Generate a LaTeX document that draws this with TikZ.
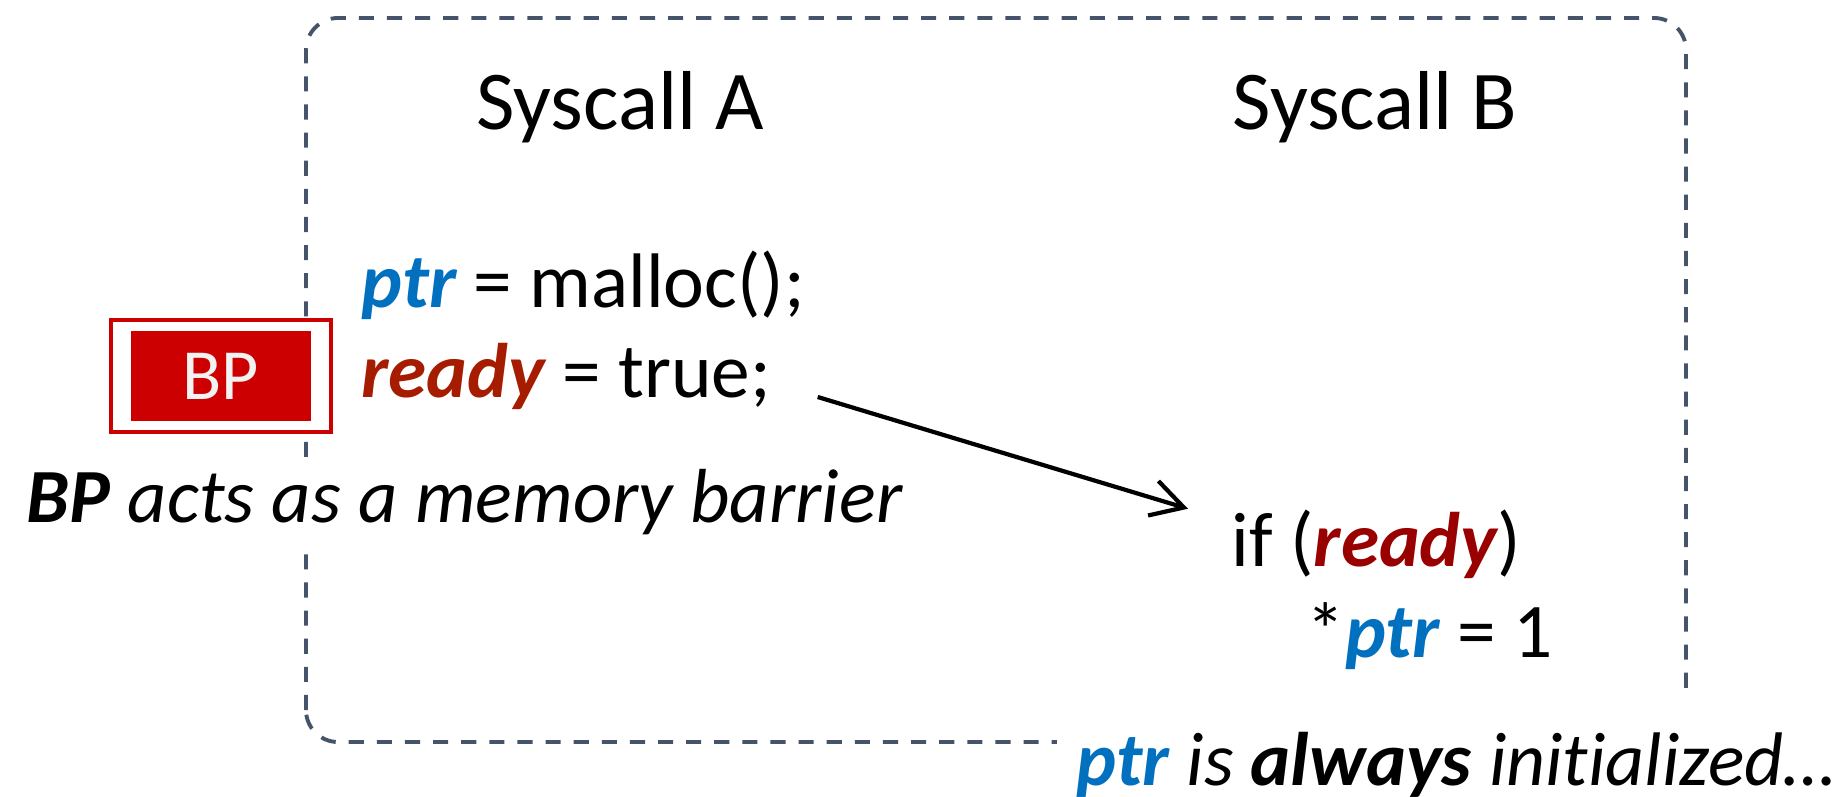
\documentclass[tikz,border=0pt]{standalone}
\usepackage{fontspec}
\setmainfont{Carlito}[Ligatures=NoCommon]
\usetikzlibrary{arrows.meta}
\tikzset{every node/.style={inner sep=0pt, font=\fontsize{22}{26}\selectfont}}
\definecolor{ptrblue}{rgb}{0,0.44,0.75}
\definecolor{readyred}{rgb}{0.65,0.11,0}
\definecolor{condred}{rgb}{0.6,0,0}
\definecolor{bpred}{rgb}{0.8,0,0}
\definecolor{boxgray}{rgb}{0.27,0.33,0.42}
\tikzset{
	syscallbox/.style={draw=boxgray, line width=1.1pt, dash pattern=on 4.3pt off 3.7pt, rounded corners=0.32cm},
	bpframe/.style={draw=bpred, line width=1pt, fill=white, minimum width=2.2cm, minimum height=1.12cm},
	bpfill/.style={fill=bpred, text=white!95!black, minimum width=1.8cm, minimum height=0.9cm, font=\fontsize{20.5}{24}\selectfont},
	note/.style={fill=white, anchor=base west, inner ysep=0.12cm, font=\fontsize{21.8}{26}\selectfont},
	arrowline/.style={line width=1.2pt, -{Straight Barb[length=3.2mm, width=3.6mm]}}
}

\begin{document}
\begin{tikzpicture}
		\useasboundingbox (0,0) rectangle (18.44,7.96);
		\draw[syscallbox] (3.06,0.54) rectangle (16.86,7.78);
		\foreach \x/\n in {6.20/A,13.75/B}{
			\node[anchor=base, font=\fontsize{23.8}{28}\selectfont] (sys\n) at (\x,6.66) {Syscall \n};
		}
		\node[anchor=base west] (alloc) at (3.61,4.89) {\textbf{\textit{\color{ptrblue}ptr}} = malloc();};
		\node[anchor=base west] (rdy) at (3.61,3.99) {\textbf{\textit{\color{readyred}ready}} = true;};
		\node[bpframe] (bpf) at (2.21,4.20) {};
		\node[bpfill] (bp) at (bpf) {BP};
		\node[note] (barrier) at (0.26,2.74) {\textbf{\textit{BP}} \textit{acts as a memory barrier}};
		\node[anchor=base west] (cond) at (12.31,2.30) {if (\textbf{\textit{\color{condred}ready}})};
		\node[anchor=base west] (deref) at (13.06,1.39) {*\textbf{\textit{\color{ptrblue}ptr}} = 1};
		\node[note, inner xsep=0.2cm, inner ysep=0pt, text height=0.95cm, text depth=0.11cm, font=\fontsize{21.6}{26}\selectfont] (always) at (10.56,0.11) {\textbf{\textit{\color{ptrblue}ptr}} \textit{is} \textbf{\textit{always}} \textit{initialized…}};
		\draw[arrowline] ([xshift=4.6mm]rdy.base east) -- ([xshift=-4.3mm]cond.north west);
	\end{tikzpicture}
\end{document}
